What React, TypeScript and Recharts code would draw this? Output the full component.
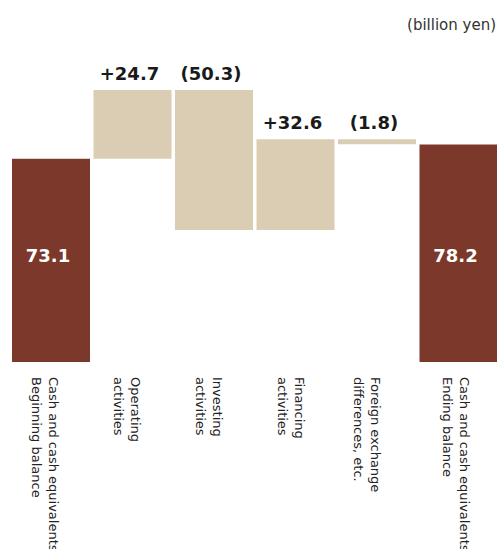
import { BarChart, Bar, XAxis, YAxis, Cell, LabelList } from 'recharts'

const CATEGORIES = [
  'Cash and cash equivalents\nBeginning balance',
  'Operating\nactivities',
  'Investing\nactivities',
  'Financing\nactivities',
  'Foreign exchange\ndifferences, etc.',
  'Cash and cash equivalents\nEnding balance',
]
const VALUES = [73.1, 24.7, -50.3, 32.6, -1.8, 78.2]
const IS_TOTAL = [true, false, false, false, false, true]
const UNIT = '(billion yen)'

const FONT = '"DejaVu Sans", Verdana, sans-serif'
const TOTAL_COLOR = '#7C392B'
const STEP_COLOR = '#DACDB4'
// small nudges so the rotated category labels sit where the original has them
const TICK_NUDGE = [-2, -1.5, -1, -0.5, -6, 2]

function buildData() {
  let run = 0
  return CATEGORIES.map((name, i) => {
    const v = VALUES[i]
    let range: [number, number]
    if (IS_TOTAL[i]) {
      range = [0, v]
      run = v
    } else {
      const start = run
      run = start + v
      range = [Math.min(start, run), Math.max(start, run)]
    }
    const fmt = Math.abs(v).toFixed(1)
    return {
      name,
      range,
      total: IS_TOTAL[i],
      topLabel: IS_TOTAL[i] ? undefined : v >= 0 ? `+${fmt}` : `(${fmt})`,
      innerLabel: IS_TOTAL[i] ? fmt : undefined,
    }
  })
}

const data = buildData()

function CategoryTick(props: any) {
  const { x, y, payload, index } = props
  const lines = String(payload.value).split('\n')
  const nudge = TICK_NUDGE[index] ?? 0
  return (
    <text
      transform={`translate(${x + nudge},${y + 15}) rotate(90)`}
      fontFamily={FONT}
      fontSize={13}
      fill="#222"
      textAnchor="start"
    >
      {lines.map((l, i) => (
        <tspan key={i} x={0} dy={i === 0 ? 0 : 17}>
          {l}
        </tspan>
      ))}
    </text>
  )
}

function TopLabel(props: any) {
  const { x, y, width, value } = props
  if (!value) return null
  return (
    <text x={x + width / 2 - 3} y={y - 10} textAnchor="middle" fontFamily={FONT} fontSize={18} fontWeight="bold" fill="#1a1a1a">
      {value}
    </text>
  )
}

function InnerLabel(props: any) {
  const { x, y, width, height, value } = props
  if (!value) return null
  return (
    <text x={x + width / 2 - 3} y={y + height - 100} textAnchor="middle" fontFamily={FONT} fontSize={18} fontWeight="bold" fill="#ffffff">
      {value}
    </text>
  )
}

export default function App() {
  return (
    <div style={{ position: 'absolute', left: 0, top: 0, width: 497, height: 549, overflow: 'hidden', background: '#fff' }}>
      <div
        style={{
          position: 'absolute',
          right: 1,
          top: 16,
          fontFamily: FONT,
          fontSize: 15,
          color: '#333',
          lineHeight: '18px',
        }}
      >
        {UNIT}
      </div>
      <BarChart
        width={499}
        height={549}
        data={data}
        margin={{ top: 84, right: 0, left: 10, bottom: 0 }}
        barCategoryGap={2}
      >
        <XAxis
          dataKey="name"
          axisLine={false}
          tickLine={false}
          tickSize={0}
          tickMargin={0}
          height={187}
          interval={0}
          tick={<CategoryTick />}
        />
        <YAxis hide domain={[0, 100]} />
        <Bar dataKey="range" isAnimationActive={false}>
          {data.map((d, i) => (
            <Cell key={i} fill={d.total ? TOTAL_COLOR : STEP_COLOR} />
          ))}
          <LabelList dataKey="topLabel" content={<TopLabel />} />
          <LabelList dataKey="innerLabel" content={<InnerLabel />} />
        </Bar>
      </BarChart>
    </div>
  )
}
